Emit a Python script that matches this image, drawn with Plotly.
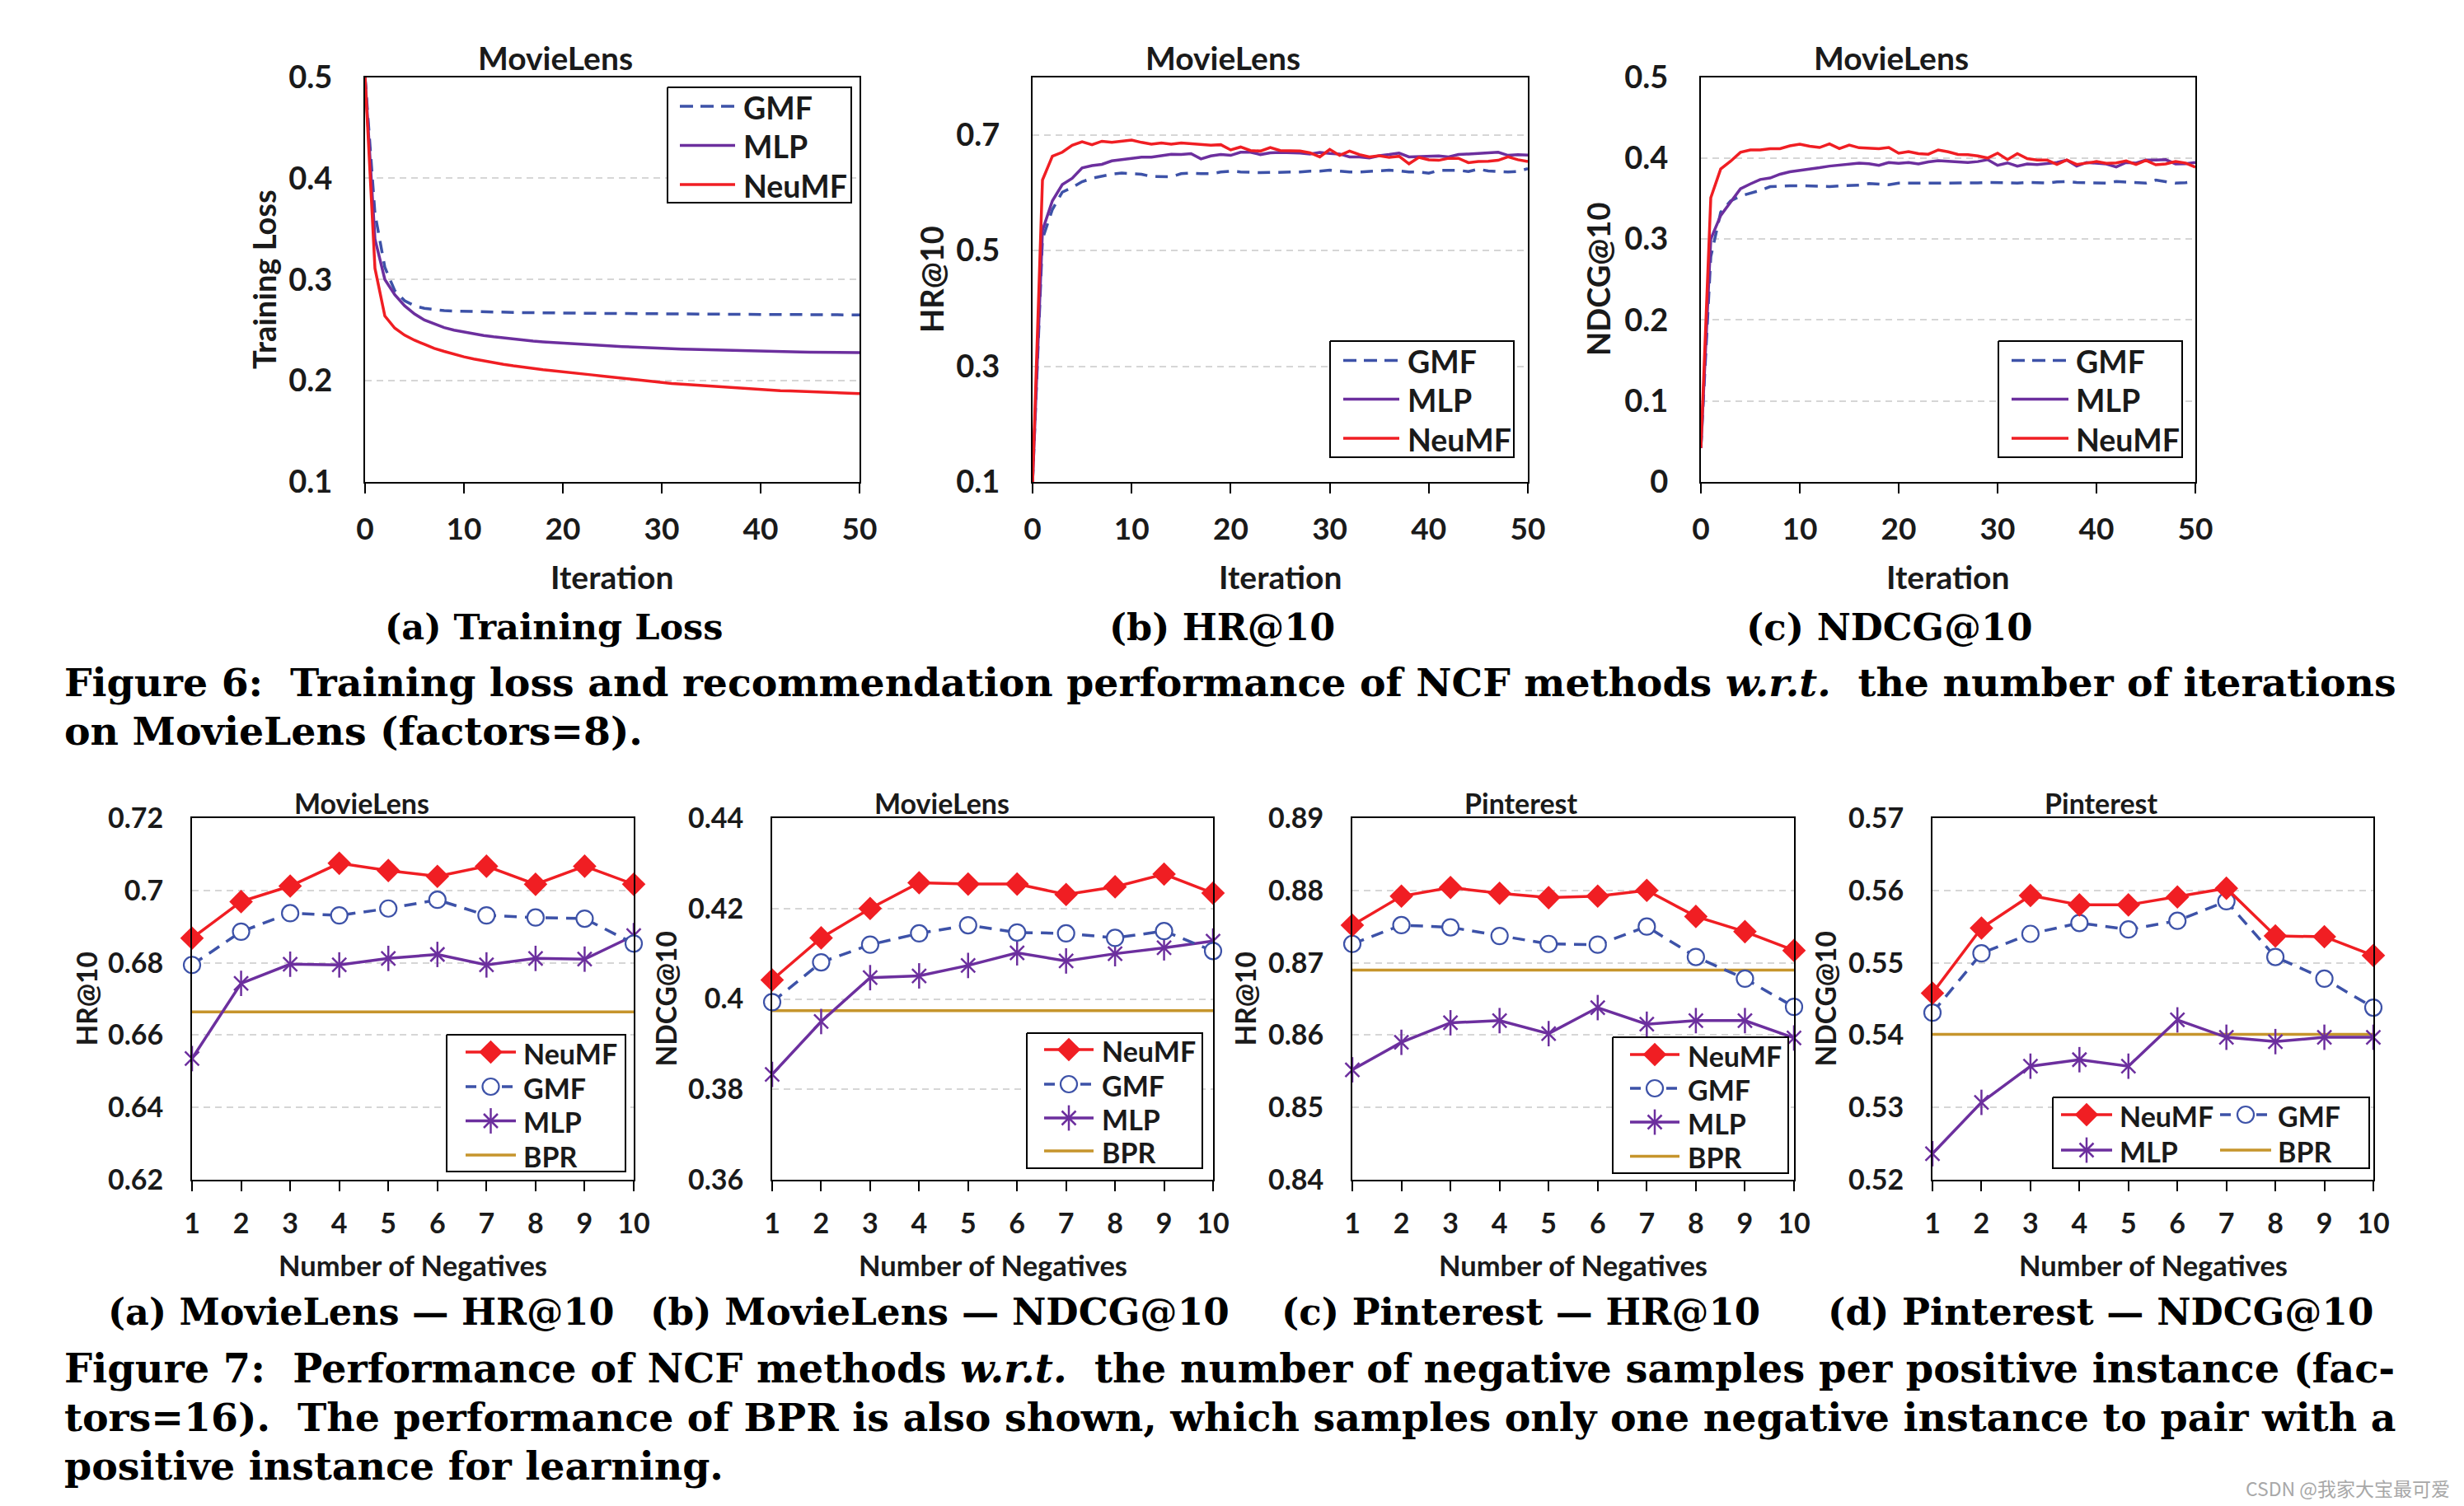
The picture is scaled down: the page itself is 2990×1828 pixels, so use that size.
import plotly.graph_objects as go

W, H = 2990, 1828

# ---------------- data: Figure 6 (iterations) ----------------
iterations = list(range(51))
iter_ticks = [0, 10, 20, 30, 40, 50]

loss_gmf = [0.500, 0.365, 0.312, 0.289, 0.279, 0.274, 0.2715, 0.2700, 0.2692, 0.2688,
            0.2685, 0.2682, 0.2680, 0.2678, 0.2676, 0.2674, 0.2673, 0.2672, 0.2670, 0.2669,
            0.2668, 0.2667, 0.2666, 0.2666, 0.2665, 0.2664, 0.2663, 0.2663, 0.2662, 0.2661,
            0.2661, 0.2660, 0.2659, 0.2659, 0.2658, 0.2658, 0.2657, 0.2657, 0.2656, 0.2656,
            0.2655, 0.2655, 0.2654, 0.2654, 0.2653, 0.2653, 0.2652, 0.2652, 0.2651, 0.2651,
            0.2650]
loss_mlp = [0.500, 0.340, 0.300, 0.285, 0.274, 0.266, 0.260, 0.256, 0.2525, 0.250,
            0.248, 0.2462, 0.2447, 0.2434, 0.2422, 0.2411, 0.2401, 0.2392, 0.2384, 0.2377,
            0.2370, 0.2364, 0.2358, 0.2352, 0.2347, 0.2342, 0.2337, 0.2332, 0.2328, 0.2324,
            0.2320, 0.2316, 0.2313, 0.2310, 0.2307, 0.2304, 0.2301, 0.2298, 0.2296, 0.2294,
            0.2292, 0.2290, 0.2288, 0.2286, 0.2284, 0.2282, 0.2281, 0.2280, 0.2279, 0.2278,
            0.2277]
loss_neumf = [0.500, 0.311, 0.264, 0.252, 0.245, 0.240, 0.236, 0.232, 0.229, 0.226,
              0.2236, 0.2215, 0.2196, 0.2178, 0.2162, 0.2147, 0.2133, 0.2120, 0.2109, 0.2099,
              0.2090, 0.2079, 0.2068, 0.2057, 0.2046, 0.2035, 0.2024, 0.2013, 0.2002, 0.1991,
              0.1980, 0.1973, 0.1966, 0.1959, 0.1952, 0.1945, 0.1938, 0.1931, 0.1924, 0.1917,
              0.1910, 0.1906, 0.1902, 0.1899, 0.1895, 0.1891, 0.1888, 0.1884, 0.1880, 0.1877,
              0.1873]

hr_gmf = [0.100, 0.520, 0.571, 0.601, 0.609, 0.619, 0.625, 0.629, 0.632, 0.634,
          0.633, 0.632, 0.628, 0.628, 0.6276, 0.633, 0.634, 0.633, 0.633, 0.6357,
          0.6372, 0.636, 0.635, 0.6347, 0.635, 0.635, 0.6357, 0.636, 0.6372, 0.6372,
          0.639, 0.637, 0.636, 0.6357, 0.637, 0.638, 0.639, 0.6377, 0.636, 0.636,
          0.6337, 0.6387, 0.639, 0.6387, 0.6367, 0.6407, 0.6377, 0.6372, 0.6357, 0.6367,
          0.6418]
hr_mlp = [0.100, 0.535, 0.586, 0.614, 0.625, 0.643, 0.647, 0.649, 0.655, 0.657,
          0.6595, 0.6615, 0.6615, 0.664, 0.6666, 0.666, 0.6676, 0.6585, 0.6636, 0.666,
          0.6646, 0.670, 0.670, 0.666, 0.669, 0.6696, 0.6696, 0.6686, 0.667, 0.6696,
          0.668, 0.667, 0.662, 0.662, 0.660, 0.664, 0.666, 0.6686, 0.662, 0.6625,
          0.663, 0.6636, 0.662, 0.666, 0.667, 0.6676, 0.6686, 0.670, 0.6646, 0.6656,
          0.665]
hr_neumf = [0.100, 0.622, 0.663, 0.670, 0.682, 0.688, 0.683, 0.689, 0.687, 0.689,
            0.691, 0.687, 0.684, 0.686, 0.684, 0.686, 0.685, 0.684, 0.682, 0.683,
            0.674, 0.679, 0.673, 0.672, 0.678, 0.673, 0.672, 0.672, 0.669, 0.662,
            0.675, 0.6645, 0.672, 0.666, 0.662, 0.664, 0.661, 0.663, 0.650, 0.661,
            0.657, 0.656, 0.6595, 0.6595, 0.652, 0.654, 0.6545, 0.656, 0.662, 0.657,
            0.654]

ndcg_gmf = [0.042, 0.278, 0.333, 0.347, 0.353, 0.3564, 0.360, 0.3647, 0.3655, 0.3658,
            0.3658, 0.3655, 0.365, 0.3648, 0.3655, 0.366, 0.3665, 0.3684, 0.3675, 0.367,
            0.369, 0.369, 0.3688, 0.3687, 0.3687, 0.3688, 0.369, 0.369, 0.3692, 0.3698,
            0.370, 0.3695, 0.369, 0.3698, 0.3695, 0.369, 0.3705, 0.371, 0.3698, 0.3698,
            0.3698, 0.369, 0.371, 0.3705, 0.370, 0.369, 0.3727, 0.371, 0.369, 0.3695,
            0.371]
ndcg_mlp = [0.042, 0.300, 0.329, 0.3455, 0.362, 0.368, 0.3735, 0.3753, 0.380, 0.383,
            0.3844, 0.3865, 0.388, 0.390, 0.391, 0.3927, 0.3938, 0.393, 0.391, 0.3945,
            0.3935, 0.3945, 0.3927, 0.3953, 0.3967, 0.396, 0.3956, 0.3945, 0.3956, 0.398,
            0.391, 0.394, 0.390, 0.3927, 0.392, 0.393, 0.3945, 0.3975, 0.390, 0.3945,
            0.3938, 0.3927, 0.389, 0.3945, 0.3938, 0.3975, 0.3975, 0.398, 0.3927, 0.393,
            0.3945]
ndcg_neumf = [0.042, 0.351, 0.3865, 0.396, 0.407, 0.410, 0.410, 0.4116, 0.4116, 0.415,
              0.417, 0.4145, 0.413, 0.4175, 0.4116, 0.416, 0.4127, 0.412, 0.4116, 0.413,
              0.406, 0.408, 0.4055, 0.4047, 0.410, 0.4076, 0.4044, 0.404, 0.4025, 0.400,
              0.406, 0.398, 0.4055, 0.3993, 0.3975, 0.3975, 0.392, 0.3975, 0.392, 0.3938,
              0.3956, 0.3935, 0.394, 0.3964, 0.392, 0.397, 0.3916, 0.3927, 0.3956, 0.3938,
              0.3887]

loss_ticks = [0.1, 0.2, 0.3, 0.4, 0.5]
loss_tick_text = ["0.1", "0.2", "0.3", "0.4", "0.5"]
hr8_ticks = [0.1, 0.3, 0.5, 0.7]
hr8_tick_text = ["0.1", "0.3", "0.5", "0.7"]
ndcg8_ticks = [0, 0.1, 0.2, 0.3, 0.4, 0.5]
ndcg8_tick_text = ["0", "0.1", "0.2", "0.3", "0.4", "0.5"]

# ---------------- data: Figure 7 (negatives) ----------------
negatives = list(range(1, 11))

ml_hr_neumf = [0.6868, 0.6969, 0.7012, 0.7075, 0.7055, 0.7039, 0.7067, 0.7017, 0.7067, 0.7017]
ml_hr_gmf = [0.6794, 0.6886, 0.6937, 0.6931, 0.6950, 0.6974, 0.6931, 0.6925, 0.6922, 0.6853]
ml_hr_mlp = [0.6535, 0.6743, 0.6796, 0.6794, 0.6812, 0.6823, 0.6794, 0.6812, 0.6810, 0.6875]
ml_hr_bpr = 0.6664

ml_ndcg_neumf = [0.4042, 0.4135, 0.4200, 0.4257, 0.4254, 0.4254, 0.4231, 0.4248, 0.4276, 0.4234]
ml_ndcg_gmf = [0.3993, 0.4081, 0.4120, 0.4145, 0.4163, 0.4147, 0.4145, 0.4135, 0.4150, 0.4106]
ml_ndcg_mlp = [0.3833, 0.3950, 0.4047, 0.4051, 0.4074, 0.4102, 0.4084, 0.4100, 0.4113, 0.4128]
ml_ndcg_bpr = 0.3974

pin_hr_neumf = [0.8752, 0.8792, 0.8804, 0.8796, 0.8790, 0.8792, 0.8800, 0.8764, 0.8743, 0.8717]
pin_hr_gmf = [0.8726, 0.8752, 0.8749, 0.8737, 0.8726, 0.8725, 0.8750, 0.8708, 0.8678, 0.8639]
pin_hr_mlp = [0.8552, 0.8590, 0.8617, 0.8620, 0.8602, 0.8638, 0.8615, 0.8620, 0.8620, 0.8596]
pin_hr_bpr = 0.8690

pin_ndcg_neumf = [0.5458, 0.5548, 0.5593, 0.5580, 0.5580, 0.5591, 0.5603, 0.5537, 0.5536, 0.5510]
pin_ndcg_gmf = [0.5431, 0.5513, 0.5540, 0.5555, 0.5546, 0.5558, 0.5585, 0.5508, 0.5478, 0.5438]
pin_ndcg_mlp = [0.5236, 0.5307, 0.5357, 0.5366, 0.5357, 0.5421, 0.5397, 0.5391, 0.5397, 0.5397]
pin_ndcg_bpr = 0.5401

ml_hr_ticks = [0.62, 0.64, 0.66, 0.68, 0.70, 0.72]
ml_hr_tick_text = ["0.62", "0.64", "0.66", "0.68", "0.7", "0.72"]
ml_ndcg_ticks = [0.36, 0.38, 0.40, 0.42, 0.44]
ml_ndcg_tick_text = ["0.36", "0.38", "0.4", "0.42", "0.44"]
pin_hr_ticks = [0.84, 0.85, 0.86, 0.87, 0.88, 0.89]
pin_hr_tick_text = ["0.84", "0.85", "0.86", "0.87", "0.88", "0.89"]
pin_ndcg_ticks = [0.52, 0.53, 0.54, 0.55, 0.56, 0.57]
pin_ndcg_tick_text = ["0.52", "0.53", "0.54", "0.55", "0.56", "0.57"]

# ---------------- styles ----------------
RED = "#F01E23"
BLUE = "#3D52A8"
PURPLE = "#6C2F9E"
GOLD = "#C6952C"
TXT = "#1A1A1A"
GRID = "#D6D6D6"
CF = "Lato"
SERIF = "DejaVu Serif"
LW = 3.5


def cfont(size, color=TXT):
    return dict(family=CF, size=size, color=color, weight="bold")


def sfont(size):
    return dict(family=SERIF, size=size, color="black", weight="bold")


def xdom(a, b):
    return [a / W, b / W]


def ydom(top, bottom):
    return [1 - bottom / H, 1 - top / H]


fig = go.Figure()
layout = dict(
    template="none",
    width=W, height=H, margin=dict(l=0, r=0, t=0, b=0, pad=0, autoexpand=False),
    paper_bgcolor="white", plot_bgcolor="rgba(0,0,0,0)", showlegend=False,
)
annotations = []


def ax_name(k, kind):
    return kind if k == 1 else f"{kind}{k}"


def ann(x, y, text, font, xanchor="center", yanchor="middle", angle=0):
    annotations.append(dict(x=x, y=y, xref="x8", yref="y8", text=text, showarrow=False,
                            font=font, xanchor=xanchor, yanchor=yanchor, textangle=angle))


# ---------------- Figure 6 panels ----------------
top_x = [(443, 1043), (1253, 1854), (2064, 2664)]
top_y = (93.5, 585)
top_panels = [
    dict(rng=[0.1, 0.5], tv=loss_ticks, tt=loss_tick_text, ytitle="Training Loss", ytx=320,
         title_x=674, series=[(loss_gmf, BLUE, "15px,10px"), (loss_mlp, PURPLE, "solid"), (loss_neumf, RED, "solid")]),
    dict(rng=[0.1, 0.8], tv=hr8_ticks, tt=hr8_tick_text, ytitle="HR@10", ytx=1130,
         title_x=1484, series=[(hr_gmf, BLUE, "15px,10px"), (hr_mlp, PURPLE, "solid"), (hr_neumf, RED, "solid")]),
    dict(rng=[0.0, 0.5], tv=ndcg8_ticks, tt=ndcg8_tick_text, ytitle="NDCG@10", ytx=1939,
         title_x=2295, series=[(ndcg_gmf, BLUE, "15px,10px"), (ndcg_mlp, PURPLE, "solid"), (ndcg_neumf, RED, "solid")]),
]

for i, p in enumerate(top_panels):
    k = i + 1
    x0, x1 = top_x[i]
    layout["xaxis" if k == 1 else f"xaxis{k}"] = dict(
        domain=xdom(x0, x1), anchor=ax_name(k, "y"), range=[0, 50], automargin=False,
        tickmode="array", tickvals=iter_ticks, ticktext=[str(v) for v in iter_ticks],
        ticks="outside", ticklen=12, tickwidth=2, tickcolor="black",
        showgrid=False, zeroline=False, showline=True, mirror=True, linecolor="black", linewidth=2,
        tickfont=cfont(37), ticklabelstandoff=12, fixedrange=True)
    layout["yaxis" if k == 1 else f"yaxis{k}"] = dict(
        domain=ydom(*top_y), anchor=ax_name(k, "x"), range=p["rng"], automargin=False,
        tickmode="array", tickvals=p["tv"], ticktext=p["tt"], ticks="",
        showgrid=True, gridcolor=GRID, griddash="8px,6px", gridwidth=2,
        zeroline=False, showline=True, mirror=True, linecolor="black", linewidth=2,
        tickfont=cfont(38), ticklabelstandoff=30, fixedrange=True)
    for ys, col, dash in p["series"]:
        fig.add_trace(go.Scatter(x=iterations, y=ys, mode="lines",
                                 line=dict(color=col, width=LW, dash=dash),
                                 xaxis=ax_name(k, "x"), yaxis=ax_name(k, "y"), hoverinfo="skip"))
    ann(p["title_x"], 70, "MovieLens", cfont(39))
    ann(p["ytx"], 339, p["ytitle"], cfont(38), angle=-90)
    ann((x0 + x1) / 2, 700, "Iteration", cfont(39))

# ---------------- Figure 7 panels ----------------
bot_x = [(233, 769), (937, 1472), (1641, 2177), (2345, 2880)]
bot_y = (993, 1432)
bot_panels = [
    dict(rng=[0.62, 0.72], tv=ml_hr_ticks, tt=ml_hr_tick_text, ytitle="HR@10", ytx=104, title="MovieLens", tx=439,
         neumf=ml_hr_neumf, gmf=ml_hr_gmf, mlp=ml_hr_mlp, bpr=ml_hr_bpr),
    dict(rng=[0.36, 0.44], tv=ml_ndcg_ticks, tt=ml_ndcg_tick_text, ytitle="NDCG@10", ytx=807, title="MovieLens", tx=1143,
         neumf=ml_ndcg_neumf, gmf=ml_ndcg_gmf, mlp=ml_ndcg_mlp, bpr=ml_ndcg_bpr),
    dict(rng=[0.84, 0.89], tv=pin_hr_ticks, tt=pin_hr_tick_text, ytitle="HR@10", ytx=1510, title="Pinterest", tx=1846,
         neumf=pin_hr_neumf, gmf=pin_hr_gmf, mlp=pin_hr_mlp, bpr=pin_hr_bpr),
    dict(rng=[0.52, 0.57], tv=pin_ndcg_ticks, tt=pin_ndcg_tick_text, ytitle="NDCG@10", ytx=2214, title="Pinterest", tx=2550,
         neumf=pin_ndcg_neumf, gmf=pin_ndcg_gmf, mlp=pin_ndcg_mlp, bpr=pin_ndcg_bpr),
]

NEU_MARK = dict(symbol="diamond", size=22, color=RED, line=dict(width=0))
GMF_MARK = dict(symbol="circle", size=20, color="white", line=dict(width=2.2, color=BLUE))
MLP_MARK = dict(symbol="x-thin-open", size=17, color=PURPLE, line=dict(width=2.5, color=PURPLE))
MLP_MARK2 = dict(symbol="line-ns-open", size=22, color=PURPLE, line=dict(width=2.5, color=PURPLE))
GMF_DASH = "15px,10px"

for i, p in enumerate(bot_panels):
    k = i + 4
    x0, x1 = bot_x[i]
    xa, ya = ax_name(k, "x"), ax_name(k, "y")
    layout[f"xaxis{k}"] = dict(
        domain=xdom(x0, x1), anchor=ya, range=[1, 10], automargin=False,
        tickmode="array", tickvals=negatives, ticktext=[str(v) for v in negatives],
        ticks="outside", ticklen=12, tickwidth=2, tickcolor="black",
        showgrid=False, zeroline=False, showline=True, mirror=True, linecolor="black", linewidth=2,
        tickfont=cfont(34), ticklabelstandoff=10, fixedrange=True)
    layout[f"yaxis{k}"] = dict(
        domain=ydom(*bot_y), anchor=xa, range=p["rng"], automargin=False,
        tickmode="array", tickvals=p["tv"], ticktext=p["tt"], ticks="",
        showgrid=True, gridcolor=GRID, griddash="8px,6px", gridwidth=2,
        zeroline=False, showline=True, mirror=True, linecolor="black", linewidth=2,
        tickfont=cfont(34), ticklabelstandoff=26, fixedrange=True)
    fig.add_trace(go.Scatter(x=negatives, y=[p["bpr"]] * len(negatives), mode="lines",
                             line=dict(color=GOLD, width=LW), xaxis=xa, yaxis=ya, hoverinfo="skip"))
    fig.add_trace(go.Scatter(x=negatives, y=p["mlp"], mode="lines+markers", cliponaxis=False,
                             line=dict(color=PURPLE, width=LW), marker=MLP_MARK,
                             xaxis=xa, yaxis=ya, hoverinfo="skip"))
    fig.add_trace(go.Scatter(x=negatives, y=p["mlp"], mode="markers", cliponaxis=False,
                             marker=MLP_MARK2, xaxis=xa, yaxis=ya, hoverinfo="skip"))
    fig.add_trace(go.Scatter(x=negatives, y=p["gmf"], mode="lines+markers", cliponaxis=False,
                             line=dict(color=BLUE, width=LW, dash=GMF_DASH), marker=GMF_MARK,
                             xaxis=xa, yaxis=ya, hoverinfo="skip"))
    fig.add_trace(go.Scatter(x=negatives, y=p["neumf"], mode="lines+markers", cliponaxis=False,
                             line=dict(color=RED, width=LW), marker=NEU_MARK,
                             xaxis=xa, yaxis=ya, hoverinfo="skip"))
    ann(p["tx"], 974, p["title"], cfont(34))
    ann(p["ytx"], 1212.5, p["ytitle"], cfont(33.5), angle=-90)
    ann((x0 + x1) / 2, 1535, "Number of Negatives", cfont(34.5))

# ---------------- overlay frame (pixel coordinates) for legends & captions ----------------
layout["xaxis8"] = dict(domain=[0, 1], range=[0, W], visible=False, fixedrange=True, anchor="y8", automargin=False)
layout["yaxis8"] = dict(domain=[0, 1], range=[H, 0], visible=False, fixedrange=True, anchor="x8", automargin=False)


def legend_box(x0, y0, x1, y1):
    fig.add_trace(go.Scatter(x=[x0, x1, x1, x0, x0], y=[y0, y0, y1, y1, y0], mode="lines",
                             fill="toself", fillcolor="white", line=dict(color="black", width=2),
                             xaxis="x8", yaxis="y8", hoverinfo="skip"))


def legend_line(sx0, sx1, y, color, dash="solid"):
    fig.add_trace(go.Scatter(x=[sx0, sx1], y=[y, y], mode="lines", line=dict(color=color, width=LW, dash=dash),
                             xaxis="x8", yaxis="y8", hoverinfo="skip"))


def legend_marker(x, y, marker):
    fig.add_trace(go.Scatter(x=[x], y=[y], mode="markers", marker=marker, cliponaxis=False,
                             xaxis="x8", yaxis="y8", hoverinfo="skip"))


# Figure 6 legends
top_legends = [
    dict(box=(810, 106, 1033, 246), sx=(825, 892), tx=900, rows=[129, 176.5, 224]),
    dict(box=(1614, 414, 1837, 555), sx=(1630, 1698), tx=1706, rows=[437.5, 484.5, 532]),
    dict(box=(2425, 414, 2648, 555), sx=(2441, 2510), tx=2517, rows=[437.5, 484.5, 532]),
]
top_entries = [("GMF", BLUE, "16px,9px"), ("MLP", PURPLE, "solid"), ("NeuMF", RED, "solid")]
for lg in top_legends:
    legend_box(*lg["box"])
    for (name, col, dash), ry in zip(top_entries, lg["rows"]):
        legend_line(lg["sx"][0], lg["sx"][1], ry, col, dash)
        ann(lg["tx"], ry + 1, name, cfont(37.5), xanchor="left")


def bottom_entry(name, sx0, sx1, tx, ry):
    mx = (sx0 + sx1) / 2
    if name == "NeuMF":
        legend_line(sx0, sx1, ry, RED)
        legend_marker(mx, ry, NEU_MARK)
    elif name == "GMF":
        legend_line(sx0, sx1, ry, BLUE, "13px,9px")
        legend_marker(mx, ry, GMF_MARK)
    elif name == "MLP":
        legend_line(sx0, sx1, ry, PURPLE)
        legend_marker(mx, ry, MLP_MARK)
        legend_marker(mx, ry, MLP_MARK2)
    else:
        legend_line(sx0, sx1, ry, GOLD)
    ann(tx, ry + 1, name, cfont(34), xanchor="left")


bottom_legends = [
    dict(box=(542, 1256, 759, 1422), sx=(565, 626), tx=633, rows=[1277, 1319, 1360.5, 1402]),
    dict(box=(1246, 1254, 1459, 1418), sx=(1267, 1327), tx=1335, rows=[1274, 1316, 1357, 1397]),
    dict(box=(1957, 1259, 2170, 1424), sx=(1978, 2038), tx=2046, rows=[1280, 1321, 1362, 1403.5]),
]
for lg in bottom_legends:
    legend_box(*lg["box"])
    for name, ry in zip(["NeuMF", "GMF", "MLP", "BPR"], lg["rows"]):
        bottom_entry(name, lg["sx"][0], lg["sx"][1], lg["tx"], ry)

# two-column legend of panel (d)
legend_box(2491, 1332, 2875, 1418)
bottom_entry("NeuMF", 2501, 2563, 2570, 1353)
bottom_entry("GMF", 2694, 2756, 2762, 1353)
bottom_entry("MLP", 2501, 2563, 2570, 1396)
bottom_entry("BPR", 2694, 2756, 2762, 1396)

# ---------------- sub-captions & captions ----------------
ann(672, 761, "(a) Training Loss", sfont(43))
ann(1483, 761, "(b) HR@10", sfont(44.5))
ann(2293, 761, "(c) NDCG@10", sfont(45))

ann(76, 828, "Figure 6:  Training loss and recommendation performance of NCF methods <i>w.r.t.</i>  the number of iterations",
    sfont(47.35), xanchor="left")
ann(76, 887, "on MovieLens (factors=8).", sfont(47.35), xanchor="left")

ann(438, 1592, "(a) MovieLens — HR@10", sfont(44.5))
ann(1140, 1592, "(b) MovieLens — NDCG@10", sfont(45.3))
ann(1845, 1592, "(c) Pinterest — HR@10", sfont(45))
ann(2549, 1592, "(d) Pinterest — NDCG@10", sfont(45.2))

ann(76, 1661, "Figure 7:  Performance of NCF methods <i>w.r.t.</i>  the number of negative samples per positive instance (fac-",
    sfont(47.9), xanchor="left")
ann(76, 1720, "tors=16).  The performance of BPR is also shown, which samples only one negative instance to pair with a",
    sfont(47.45), xanchor="left")
ann(76, 1779, "positive instance for learning.", sfont(47.45), xanchor="left")

annotations.append(dict(x=2975, y=1806, xref="x8", yref="y8", text="CSDN @我家大宝最可爱", showarrow=False,
                        font=dict(family="Noto Sans CJK SC", size=23, color="#A8A8A8"),
                        xanchor="right", yanchor="middle"))

layout["annotations"] = annotations
fig.update_layout(**layout)

fig.write_html("out.html", config={"displayModeBar": False},
               post_script="document.body.style.margin='0';document.body.style.overflow='hidden';")
